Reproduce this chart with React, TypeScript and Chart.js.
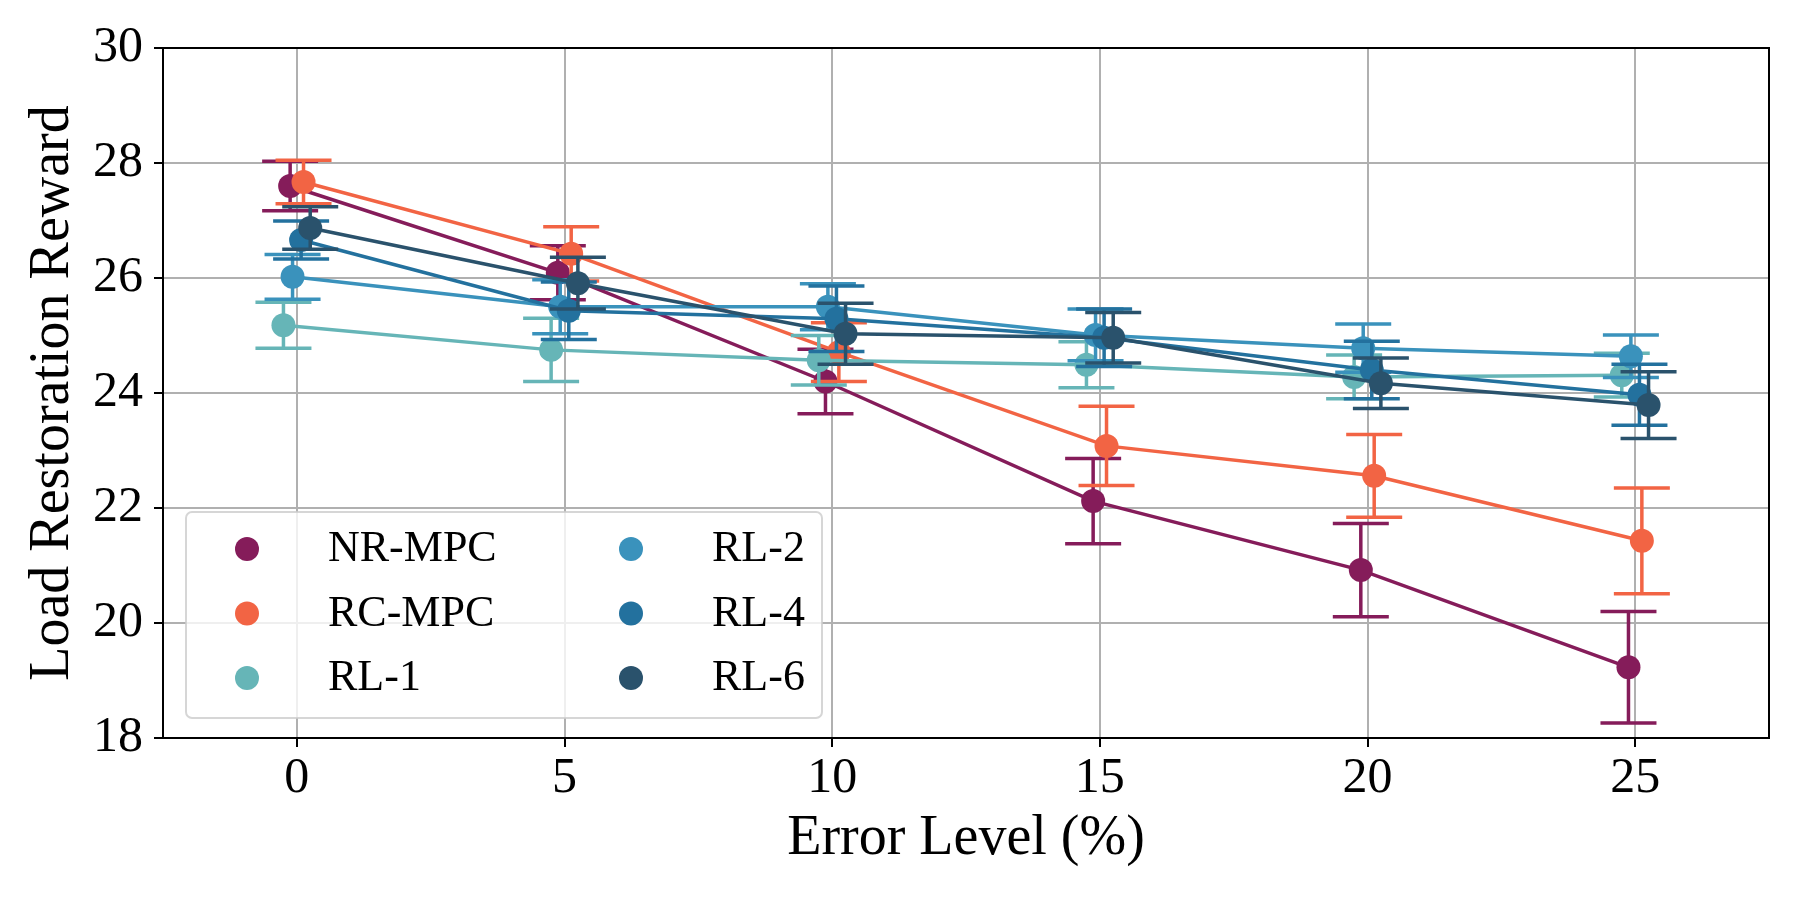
import { useEffect, useRef } from "react"
import { Chart, registerables } from "chart.js"

Chart.register(...registerables)

const errorLevels = [0, 5, 10, 15, 20, 25]
const yTickValues = [18, 20, 22, 24, 26, 28, 30]

const seriesLabels = ["NR-MPC", "RC-MPC", "RL-1", "RL-2", "RL-4", "RL-6"]
const seriesColors = ["#851c5a", "#f26444", "#66b5b7", "#3a92bc", "#23719e", "#2a526c"]
// each method is nudged sideways a bit so the error bars don't overlap
const seriesShift = [-0.125, 0.125, -0.25, -0.08, 0.08, 0.25]

const nrMpcMean = [27.6, 26.09, 24.2, 22.12, 20.92, 19.23]
const nrMpcStd = [0.43, 0.47, 0.56, 0.74, 0.81, 0.97]
const rcMpcMean = [27.67, 26.42, 24.71, 23.08, 22.56, 21.43]
const rcMpcStd = [0.38, 0.47, 0.51, 0.69, 0.72, 0.92]
const rl1Mean = [25.18, 24.75, 24.57, 24.49, 24.28, 24.31]
const rl1Std = [0.4, 0.55, 0.43, 0.4, 0.38, 0.38]
const rl2Mean = [26.02, 25.5, 25.5, 25.01, 24.78, 24.64]
const rl2Std = [0.39, 0.47, 0.4, 0.45, 0.42, 0.37]
const rl4Mean = [26.66, 25.43, 25.29, 24.96, 24.4, 23.97]
const rl4Std = [0.33, 0.5, 0.57, 0.5, 0.5, 0.53]
const rl6Mean = [26.87, 25.91, 25.03, 24.96, 24.17, 23.79]
const rl6Std = [0.37, 0.45, 0.53, 0.44, 0.44, 0.58]

const means = [nrMpcMean, rcMpcMean, rl1Mean, rl2Mean, rl4Mean, rl6Mean]
const stds = [nrMpcStd, rcMpcStd, rl1Std, rl2Std, rl4Std, rl6Std]

const FONT = "'Liberation Serif', 'Times New Roman', serif"

// mean +/- std whiskers, drawn just before each dataset so layering follows the series
const errorBarPlugin = {
  id: "errorBars",
  beforeDatasetDraw(chart: any, args: any) {
    const ds = chart.data.datasets[args.index]
    const xs = chart.scales.x
    const ys = chart.scales.y
    const ctx = chart.ctx
    const cap = 28
    ctx.save()
    ctx.strokeStyle = ds.borderColor
    ctx.lineWidth = 3.5
    ds.data.forEach((p: any, i: number) => {
      const err = ds.errors[i]
      const px = xs.getPixelForValue(p.x)
      const top = ys.getPixelForValue(p.y + err)
      const bot = ys.getPixelForValue(p.y - err)
      ctx.beginPath()
      ctx.moveTo(px, top)
      ctx.lineTo(px, bot)
      ctx.moveTo(px - cap, top)
      ctx.lineTo(px + cap, top)
      ctx.moveTo(px - cap, bot)
      ctx.lineTo(px + cap, bot)
      ctx.stroke()
    })
    ctx.restore()
  },
}

const framePlugin = {
  id: "frame",
  afterDatasetsDraw(chart: any) {
    const { ctx, chartArea } = chart
    ctx.save()
    ctx.strokeStyle = "#000"
    ctx.lineWidth = 2
    ctx.strokeRect(chartArea.left, chartArea.top, chartArea.right - chartArea.left, chartArea.bottom - chartArea.top)
    ctx.restore()
  },
}

// two-column legend in the lower left corner, like matplotlib's ncol=2
const legendPlugin = {
  id: "cornerLegend",
  afterDraw(chart: any) {
    const { ctx, chartArea } = chart
    const boxX = chartArea.left + 23
    const boxY = chartArea.bottom - 226
    ctx.save()
    ctx.beginPath()
    ctx.roundRect(boxX, boxY, 636, 206, 6)
    ctx.fillStyle = "rgba(255,255,255,0.8)"
    ctx.fill()
    ctx.strokeStyle = "rgba(204,204,204,0.8)"
    ctx.lineWidth = 2
    ctx.stroke()
    ctx.font = `44px ${FONT}`
    ctx.textBaseline = "alphabetic"
    ctx.textAlign = "left"
    seriesLabels.forEach((label, i) => {
      const col = Math.floor(i / 3)
      const row = i % 3
      const cy = boxY + 37 + row * 64.5
      ctx.fillStyle = seriesColors[i]
      ctx.beginPath()
      ctx.arc(boxX + 61 + col * 384, cy, 12, 0, Math.PI * 2)
      ctx.fill()
      ctx.fillStyle = "#000"
      ctx.fillText(label, boxX + 142 + col * 384, cy + 12)
    })
    ctx.restore()
  },
}

export default function App() {
  const chartRef = useRef<HTMLCanvasElement>(null)
  const chartInstance = useRef<Chart | null>(null)

  useEffect(() => {
    document.body.style.margin = "0"
    if (!chartRef.current) return

    if (chartInstance.current) {
      chartInstance.current.destroy()
    }

    const datasets = seriesLabels.map((label, s) => ({
      label,
      data: errorLevels.map((lvl, i) => ({ x: lvl + seriesShift[s], y: means[s][i] })),
      errors: stds[s],
      borderColor: seriesColors[s],
      backgroundColor: seriesColors[s],
      borderWidth: 3.5,
      pointRadius: 12,
      pointHoverRadius: 12,
      pointBorderWidth: 0,
      showLine: true,
      order: seriesLabels.length - 1 - s,
    }))

    const ctx = chartRef.current.getContext("2d")
    if (ctx) {
      chartInstance.current = new Chart(ctx, {
        type: "scatter",
        data: { datasets: datasets as any },
        plugins: [errorBarPlugin, framePlugin, legendPlugin],
        options: {
          animation: false,
          responsive: true,
          maintainAspectRatio: false,
          devicePixelRatio: 1,
          events: [],
          layout: { padding: { left: 0, top: 48, right: 31, bottom: 0 } },
          plugins: {
            legend: { display: false },
            tooltip: { enabled: false },
          },
          scales: {
            x: {
              type: "linear",
              min: -2.5,
              max: 27.5,
              afterBuildTicks: (scale: any) => {
                scale.ticks = errorLevels.map((v) => ({ value: v }))
              },
              afterFit: (scale: any) => {
                scale.height = 162
              },
              grid: { color: "#b0b0b0", lineWidth: 2, tickColor: "#000", tickLength: 9, tickWidth: 2 },
              border: { color: "#000", width: 2 },
              ticks: { color: "#000", padding: 2, font: { family: FONT, size: 50 } },
              title: {
                display: true,
                text: "Error Level (%)",
                color: "#000",
                padding: { top: 0, bottom: 27 },
                font: { family: FONT, size: 56 },
              },
            },
            y: {
              type: "linear",
              min: 18,
              max: 30,
              afterBuildTicks: (scale: any) => {
                scale.ticks = yTickValues.map((v) => ({ value: v }))
              },
              afterFit: (scale: any) => {
                scale.width = 163
              },
              grid: { color: "#b0b0b0", lineWidth: 2, tickColor: "#000", tickLength: 9, tickWidth: 2 },
              border: { color: "#000", width: 2 },
              ticks: { color: "#000", padding: 11, font: { family: FONT, size: 50 } },
              title: {
                display: true,
                text: "Load Restoration Reward",
                color: "#000",
                padding: { top: 20, bottom: 0 },
                font: { family: FONT, size: 56 },
              },
            },
          },
        },
      })
    }

    return () => {
      if (chartInstance.current) {
        chartInstance.current.destroy()
        chartInstance.current = null
      }
    }
  }, [])

  return (
    <div style={{ width: 1800, height: 900, position: "relative", background: "#fff" }}>
      <canvas ref={chartRef} />
    </div>
  )
}
